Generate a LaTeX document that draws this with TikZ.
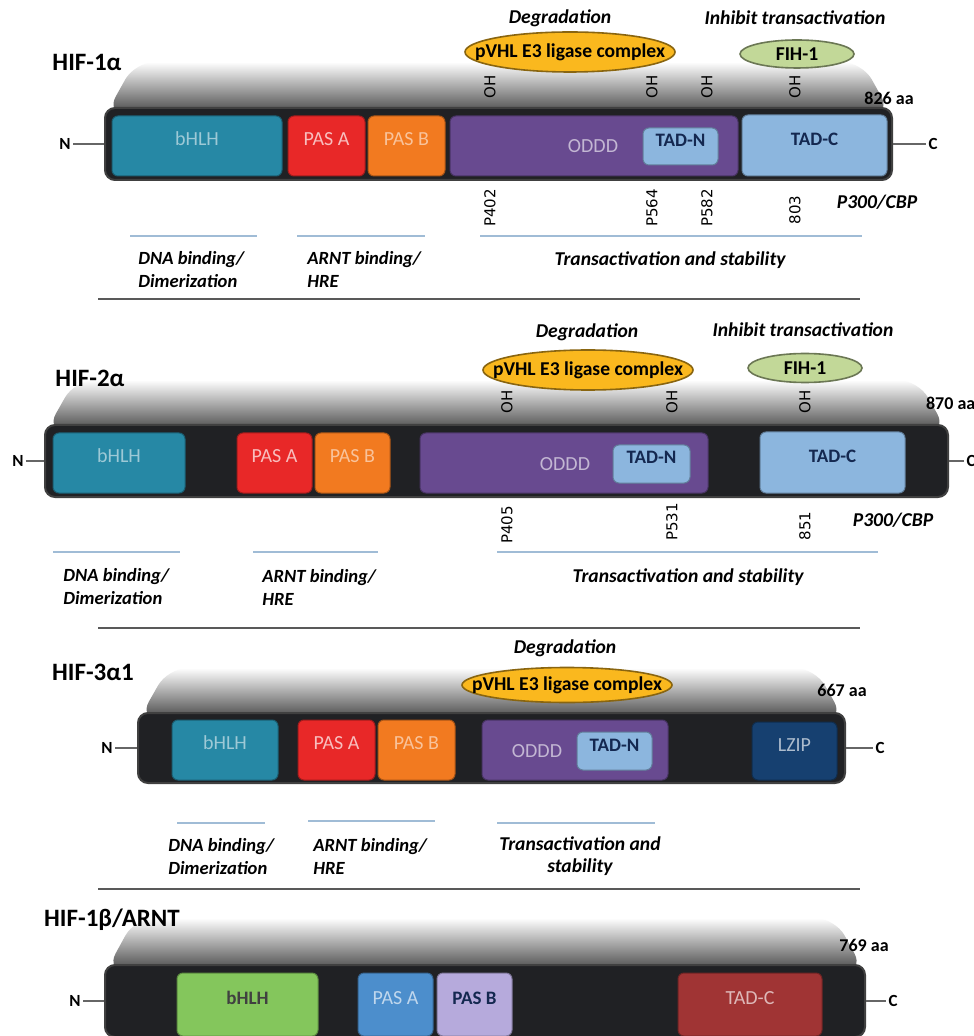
\documentclass[tikz,border=0pt]{standalone}
\usepackage{fontspec}
\setmainfont{Carlito}
\newfontfamily\sitefont{DejaVu Sans}
\usetikzlibrary{fit,shapes.geometric}

\definecolor{barblack}{RGB}{32,33,36}
\definecolor{tealdom}{RGB}{38,136,165}
\definecolor{reddom}{RGB}{232,40,40}
\definecolor{orangedom}{RGB}{242,122,32}
\definecolor{purpledom}{RGB}{104,74,144}
\definecolor{tadblue}{RGB}{140,182,222}
\definecolor{tadtext}{RGB}{20,40,80}
\definecolor{lzipblue}{RGB}{22,64,112}
\definecolor{greendom}{RGB}{132,198,92}
\definecolor{pasablue}{RGB}{76,142,204}
\definecolor{lavdom}{RGB}{182,170,220}
\definecolor{tadred}{RGB}{160,52,52}
\definecolor{pvhl}{RGB}{250,184,30}
\definecolor{fih}{RGB}{194,216,152}
\definecolor{spanblue}{RGB}{160,188,214}

\tikzset{
  bar/.style={draw=black!75, line width=1pt, fill=barblack, rounded corners=5pt, inner sep=0pt},
  barshadow/.style={top color=white, middle color=black!20, bottom color=black!72, rounded corners=10pt},
  dom/.style={draw=#1!70!black, fill=#1, rounded corners=3pt, inner sep=0pt, line width=0.5pt,
    font=\fontsize{10}{11}\selectfont},
  tadbox/.style={dom=tadblue, text=tadtext, font=\fontsize{9.5}{11}\selectfont\bfseries},
  title/.style={font=\fontsize{12.5}{14}\selectfont\bfseries},
  aalen/.style={font=\fontsize{9}{10}\selectfont\bfseries},
  term/.style={font=\fontsize{8.5}{9}\selectfont\bfseries, inner sep=1pt},
  role/.style={font=\fontsize{9.8}{11}\selectfont\bfseries\itshape},
  cplx/.style={ellipse, draw=#1!55!black, fill=#1, line width=0.8pt, inner sep=0pt},
  cplxtext/.style={font=\fontsize{9.8}{10}\selectfont\bfseries},
  site/.style={rotate=90, font=\sitefont\fontsize{7.5}{8}\selectfont},
  span/.style={spanblue, line width=0.8pt},
  sepline/.style={black!65, line width=0.8pt},
  func/.style={font=\fontsize{9.3}{11.5}\selectfont\bfseries\itshape, align=left, anchor=north west, inner sep=0pt}
}

\begin{document}
\begin{tikzpicture}[x=0.5pt, y=-0.5pt]
\fill[white] (0,0) rectangle (973,1036);
\useasboundingbox (0,0) rectangle (973,1036);

% HIF-1 alpha
\shade[barshadow] (106,114) -- (135,62) -- (862,62) -- (891,114) -- cycle;
\node[title] (t1) at (87,62) {HIF-1α};
\node[role] (deg1) at (560,18) {Degradation};
\node[role] (inh1) at (795,18) {Inhibit transactivation};
\node[cplx=pvhl, minimum width=105pt, minimum height=20pt,
  label={[cplxtext]center:pVHL E3 ligase complex}] (vhl1) at (570,52) {};
\node[cplx=fih, minimum width=57pt, minimum height=14pt,
  label={[cplxtext]center:FIH-1}] (fih1) at (797,54) {};
\node[site] (oh1a) at (490,87) {OH};
\node[site] (oh1b) at (652,87) {OH};
\node[site] (oh1c) at (707,87) {OH};
\node[site] (oh1d) at (795,87) {OH};
\node[aalen] (len1) at (889,98) {826 aa};
\node[bar, fit={(105,108) (892,180)}] (bar1) {};
\node[dom=tealdom, text=tealdom!45!white, fit={(112,116) (282,176)}] (bhlh1) {bHLH};
\node[dom=reddom, text=reddom!30!white, fit={(288,116) (365,176)}] (pasa1) {PAS A};
\node[dom=orangedom, text=orangedom!45!white, fit={(368,116) (445,176)}] (pasb1) {PAS B};
\node[dom=purpledom, fit={(450,116) (738,176)}] (oddd1) {};
\node[text=purpledom!40!white, font=\fontsize{10}{11}\selectfont] (od1) at (593,146) {ODDD};
\node[tadbox, fit={(643,128) (718,165)}] (tadn1) {TAD-N};
\node[tadbox, fit={(742,115) (887,176)}] (tadc1) {TAD-C};
\node[term] (n1) at (65,144) {N};
\node[term] (c1) at (933,144) {C};
\draw[black!60, line width=1pt] (n1) -- (bar1);
\draw[black!60, line width=1pt] (bar1) -- (c1);
\node[site] (p1a) at (490,208) {P402};
\node[site] (p1b) at (652,208) {P564};
\node[site] (p1c) at (707,208) {P582};
\node[site] (p1d) at (795,210) {803};
\node[role] (cbp1) at (877,202) {P300/CBP};
\draw[span] (130,236) -- (257,236);
\draw[span] (297,236) -- (425,236);
\draw[span] (480,236) -- (862,236);
\node[func] (dna1) at (138,251) {DNA binding/\\Dimerization};
\node[func] (arnt1) at (307,251) {ARNT binding/\\HRE};
\node[role] (tr1) at (670,260) {Transactivation and stability};
\draw[sepline] (98,299) -- (860,299);

% HIF-2 alpha
\shade[barshadow] (46,431) -- (75,380) -- (918,380) -- (947,431) -- cycle;
\node[title] (t2) at (90,378) {HIF-2α};
\node[role] (deg2) at (587,332) {Degradation};
\node[role] (inh2) at (803,330) {Inhibit transactivation};
\node[cplx=pvhl, minimum width=105pt, minimum height=20pt,
  label={[cplxtext]center:pVHL E3 ligase complex}] (vhl2) at (588,370) {};
\node[cplx=fih, minimum width=57pt, minimum height=14.5pt,
  label={[cplxtext]center:FIH-1}] (fih2) at (805,368) {};
\node[site] (oh2a) at (507,402) {OH};
\node[site] (oh2b) at (672,402) {OH};
\node[site] (oh2c) at (805,402) {OH};
\node[aalen, anchor=west] (len2) at (919,403) {870 aa};
\node[bar, fit={(45,425) (948,497)}] (bar2) {};
\node[dom=tealdom, text=tealdom!45!white, fit={(53,433) (185,493)}] (bhlh2) {bHLH};
\node[dom=reddom, text=reddom!30!white, fit={(237,433) (312,493)}] (pasa2) {PAS A};
\node[dom=orangedom, text=orangedom!45!white, fit={(315,433) (390,493)}] (pasb2) {PAS B};
\node[dom=purpledom, fit={(420,433) (708,493)}] (oddd2) {};
\node[text=purpledom!40!white, font=\fontsize{10}{11}\selectfont] (od2) at (565,464) {ODDD};
\node[tadbox, fit={(613,445) (690,483)}] (tadn2) {TAD-N};
\node[tadbox, fit={(760,432) (905,493)}] (tadc2) {TAD-C};
\node[term] (n2) at (18,461) {N};
\node[term] (c2) at (971,461) {C};
\draw[black!60, line width=1pt] (n2) -- (bar2);
\draw[black!60, line width=1pt] (bar2) -- (c2);
\node[site] (p2a) at (507,525) {P405};
\node[site] (p2b) at (672,522) {P531};
\node[site] (p2c) at (805,526) {851};
\node[role] (cbp2) at (893,520) {P300/CBP};
\draw[span] (53,552) -- (180,552);
\draw[span] (253,552) -- (378,552);
\draw[span] (497,552) -- (878,552);
\node[func] (dna2) at (63,568) {DNA binding/\\Dimerization};
\node[func] (arnt2) at (262,569) {ARNT binding/\\HRE};
\node[role] (tr2) at (688,577) {Transactivation and stability};
\draw[sepline] (98,628) -- (860,628);

% HIF-3 alpha1
\shade[barshadow] (139,719) -- (168,668) -- (815,668) -- (844,719) -- cycle;
\node[title] (t3) at (93,672) {HIF-3α1};
\node[role] (deg3) at (565,648) {Degradation};
\node[cplx=pvhl, minimum width=105pt, minimum height=17.5pt,
  label={[cplxtext]center:pVHL E3 ligase complex}] (vhl3) at (567,685) {};
\node[aalen] (len3) at (842,690) {667 aa};
\node[bar, fit={(138,713) (845,783)}] (bar3) {};
\node[dom=tealdom, text=tealdom!45!white, fit={(172,720) (278,780)}] (bhlh3) {bHLH};
\node[dom=reddom, text=reddom!30!white, fit={(298,720) (375,780)}] (pasa3) {PAS A};
\node[dom=orangedom, text=orangedom!45!white, fit={(378,720) (455,780)}] (pasb3) {PAS B};
\node[dom=purpledom, fit={(482,720) (668,780)}] (oddd3) {};
\node[text=purpledom!40!white, font=\fontsize{10}{11}\selectfont] (od3) at (537,751) {ODDD};
\node[tadbox, fit={(577,732) (652,770)}] (tadn3) {TAD-N};
\node[dom=lzipblue, text=lzipblue!35!white, fit={(752,722) (837,780)}] (lzip3) {LZIP};
\node[term] (n3) at (107,748) {N};
\node[term] (c3) at (880,748) {C};
\draw[black!60, line width=1pt] (n3) -- (bar3);
\draw[black!60, line width=1pt] (bar3) -- (c3);
\draw[span] (177,823) -- (265,823);
\draw[span] (308,821) -- (435,821);
\draw[span] (497,823) -- (655,823);
\node[func] (dna3) at (168,838) {DNA binding/\\Dimerization};
\node[func] (arnt3) at (313,838) {ARNT binding/\\HRE};
\node[role, align=center] (tr3) at (580,856) {Transactivation and\\stability};
\draw[sepline] (98,889) -- (860,889);

% HIF-1 beta / ARNT
\shade[barshadow] (106,971) -- (135,918) -- (835,918) -- (864,971) -- cycle;
\node[title] (t4) at (112,920) {HIF-1β/ARNT};
\node[aalen] (len4) at (864,945) {769 aa};
\node[bar, fit={(105,965) (865,1037)}] (bar4) {};
\node[dom=greendom, text=black!75, font=\fontsize{9.5}{11}\selectfont\bfseries, fit={(177,973) (318,1036)}] (bhlh4) {bHLH};
\node[dom=pasablue, text=pasablue!35!white, fit={(358,973) (433,1036)}] (pasa4) {PAS A};
\node[dom=lavdom, text=tadtext, font=\fontsize{9.5}{11}\selectfont\bfseries, fit={(437,973) (512,1036)}] (pasb4) {PAS B};
\node[dom=tadred, text=tadred!35!white, fit={(678,973) (822,1036)}] (tadc4) {TAD-C};
\node[term] (n4) at (75,1001) {N};
\node[term] (c4) at (893,1001) {C};
\draw[black!60, line width=1pt] (n4) -- (bar4);
\draw[black!60, line width=1pt] (bar4) -- (c4);
\end{tikzpicture}
\end{document}
